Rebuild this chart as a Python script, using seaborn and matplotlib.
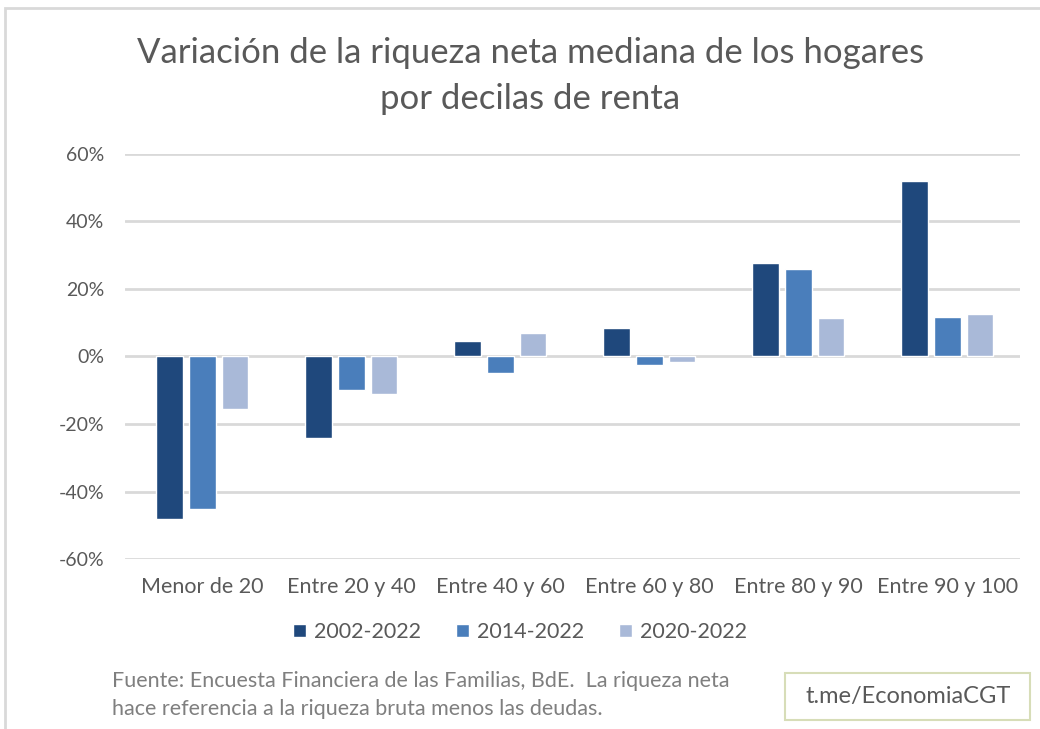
import pandas as pd
import matplotlib
matplotlib.use("Agg")
import matplotlib.pyplot as plt
import seaborn as sns
from matplotlib.patches import Rectangle, Patch
from matplotlib.ticker import FuncFormatter

# Data
categorias = ["Menor de 20", "Entre 20 y 40", "Entre 40 y 60",
              "Entre 60 y 80", "Entre 80 y 90", "Entre 90 y 100"]
periodos = ["2002-2022", "2014-2022", "2020-2022"]
v_2002_2022 = [-48, -24, 4.5, 8.3, 27.6, 52]
v_2014_2022 = [-45.3, -10, -5, -2.5, 25.8, 11.6]
v_2020_2022 = [-15.6, -11, 7, -1.5, 11.3, 12.5]
colores = ["#1F487C", "#4A7EBB", "#A9B9D8"]

df = pd.DataFrame({
    "categoria": categorias * 3,
    "periodo": [p for p in periodos for _ in categorias],
    "valor": v_2002_2022 + v_2014_2022 + v_2020_2022,
})

sns.set_theme(style="white")
plt.rcParams["font.family"] = ["Lato", "DejaVu Sans"]
gris = "#595959"

fig = plt.figure(figsize=(10.4, 7.29), dpi=100)
ax = fig.add_axes([0.12, 0.233, 0.861, 0.556])

sns.barplot(data=df, x="categoria", y="valor", hue="periodo",
            order=categorias, hue_order=periodos, palette=colores,
            saturation=1, width=0.66, gap=0.19, ax=ax, legend=False, zorder=3)

ax.set_ylim(-60, 60)
ax.set_yticks(range(-60, 61, 20))
ax.yaxis.set_major_formatter(FuncFormatter(lambda v, p: f"{v:.0f}%"))
ax.set_xlim(-0.52, 5.49)
ax.grid(axis="y", color="#D9D9D9", linewidth=2, zorder=0)
ax.set_axisbelow(True)
for s in ax.spines.values():
    s.set_visible(False)
ax.set_xlabel("")
ax.set_ylabel("")
ax.tick_params(axis="y", labelsize=14, labelcolor=gris, pad=15, length=0)
ax.tick_params(axis="x", labelsize=15.5, labelcolor=gris, pad=13, length=0)

fig.text(0.51, 0.927, "Variación de la riqueza neta mediana de los hogares",
         ha="center", va="center", fontsize=25, color=gris)
fig.text(0.51, 0.864, "por decilas de renta",
         ha="center", va="center", fontsize=25, color=gris)

handles = [Patch(facecolor=c, label=p) for c, p in zip(colores, periodos)]
fig.legend(handles=handles, loc="center", bbox_to_anchor=(0.5, 0.133), ncol=3,
           frameon=False, fontsize=15.5, labelcolor=gris, handlelength=0.6,
           handleheight=0.6, handletextpad=0.4, columnspacing=1.6)

fig.text(0.108, 0.066, "Fuente: Encuesta Financiera de las Familias, BdE.  La riqueza neta",
         ha="left", va="center", fontsize=15.5, color="#7F7F7F")
fig.text(0.108, 0.028, "hace referencia a la riqueza bruta menos las deudas.",
         ha="left", va="center", fontsize=15.5, color="#7F7F7F")

fig.patches.append(Rectangle((785 / 1040, 9 / 729), 245 / 1040, 47 / 729,
                             transform=fig.transFigure, facecolor="white",
                             edgecolor="#D7DDB8", linewidth=1.5))
fig.text(908 / 1040, 32 / 729, "t.me/EconomiaCGT", ha="center", va="center",
         fontsize=17, color=gris)

fig.patches.append(Rectangle((5 / 1040, -0.01), 1.05, 1 - 8 / 729 + 0.01,
                             transform=fig.transFigure, fill=False,
                             edgecolor="#D9D9D9", linewidth=2))

fig.savefig("out.png", dpi=100, facecolor="white")
